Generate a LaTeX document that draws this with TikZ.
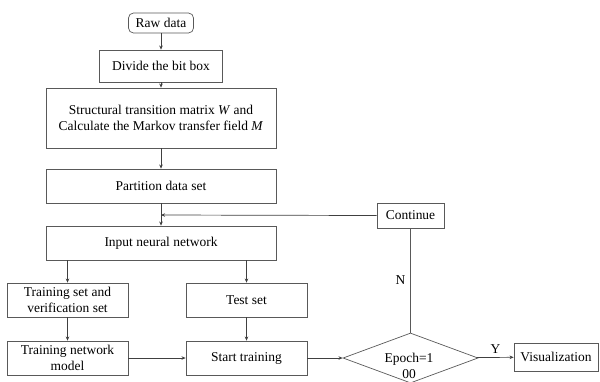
\documentclass[tikz,border=0pt]{standalone}
\usepackage{fontspec}
\setmainfont{Liberation Serif}
\usetikzlibrary{shapes.geometric, arrows.meta}

\begin{document}
\begin{tikzpicture}[
    x=0.03cm, y=-0.03cm,
    every node/.style={font=\fontsize{11.5}{13.5}\selectfont},
    base/.style={align=center, inner sep=1pt, draw=black!65, line width=0.6pt},
    startbox/.style={base, rectangle, rounded corners=1.5mm, minimum width=1.95cm, minimum height=0.6cm},
    process/.style={base, rectangle, minimum height=1.02cm},
    widebox/.style={process, minimum width=6.9cm},
    halfbox/.style={process, minimum width=3.63cm},
    decision/.style={base, diamond, minimum width=4.05cm, minimum height=1.5cm},
    arrow/.style={-{Stealth[length=3.5pt, width=3pt]}, line width=0.6pt, draw=black!75},
    plain/.style={line width=0.6pt, draw=black!65}
]
\useasboundingbox (0,0) rectangle (600,381);

\node[startbox] (raw) at (161, 23) {Raw data};
\node[process, minimum width=3.69cm, minimum height=0.96cm] (divide) at (161, 66) {Divide the bit box};
\node[widebox, minimum height=1.8cm] (struct) at (161, 118)
    {Structural transition matrix \textit{W} and\\Calculate the Markov transfer field \textit{M}};
\node[widebox] (part) at (161, 186) {Partition data set};
\node[widebox] (input) at (161, 243) {Input neural network};

\node[halfbox] (trainset) at (67.5, 300) {Training set and\\verification set};
\node[halfbox] (testset) at (246.5, 300) {Test set};
\node[halfbox] (trainnet) at (67.5, 358) {Training network\\model};
\node[halfbox] (start) at (246.5, 358) {Start training};

\node[decision] (epoch) at (410.5, 358) {};
\node[align=center, inner sep=0pt] (epochtxt) at (409, 366) {Epoch=1\\00};
\node[base, rectangle, minimum width=2.01cm, minimum height=0.75cm] (cont) at (410.5, 215.5) {Continue};
\node[base, rectangle, minimum width=2.52cm, minimum height=0.84cm] (vis) at (556, 357) {Visualization};

\coordinate (join) at (161, 215);

\draw[arrow] (raw) -- (divide);
\draw[arrow] (divide) -- (struct);
\draw[arrow] (struct) -- (part);
\draw[arrow] (part) -- (input);
\draw[arrow] (cont.west) -- (join);
\draw[arrow] (input.south -| trainset) -- (trainset);
\draw[arrow] (input.south -| testset) -- (testset);
\draw[arrow] (trainset) -- (trainnet);
\draw[arrow] (testset) -- (start);
\draw[arrow] (trainnet) -- (start);
\draw[arrow] (start) -- (epoch);
\draw[arrow] (epoch) -- node[above, inner sep=3pt] {Y} (vis);
\draw[plain] (epoch.north) -- node[left, inner sep=4pt] {N} (cont.south);

\end{tikzpicture}
\end{document}
